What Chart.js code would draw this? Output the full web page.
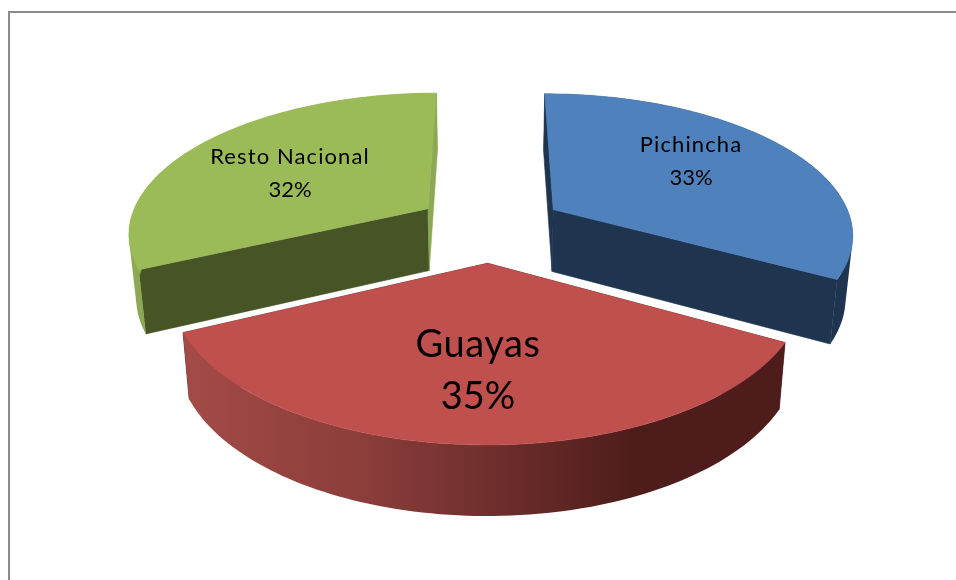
<!DOCTYPE html>
<html><head><meta charset="utf-8">
<style>html,body{margin:0;padding:0;background:#fff;overflow:hidden}canvas{display:block}</style>
<script src="https://cdn.jsdelivr.net/npm/chart.js@4"></script>
</head><body><canvas id="c" width="956" height="580"></canvas>
<script>
const categories = ['Pichincha', 'Guayas', 'Resto Nacional'];
const shares = [33, 35, 32];
const topColors = ['#4F81BD', '#C0504D', '#9BBB59'];
const startFaceColors = ['#1F344F', '#4E1D1B', '#465426'];
const endFaceColors = ['#1F344F', '#4E1D1B', '#8DA852'];
const wallStops = [
  [[0, '#1F344F'], [1, '#1F344F']],
  [[0, '#A34A46'], [0.3, '#8A3D3A'], [0.55, '#6A2C2A'], [0.75, '#4E1D1B'], [1, '#4E1D1B']],
  [[0, '#8DA852'], [1, '#8DA852']]
];
const labelSpots = [[691, 145, 178, 22, 1.1], [478, 345, 397, 38, 0.6], [290, 157, 190, 22, 1.1]];

const EXPLODE = 0.25, PERSP = 0.16;
const topPlane = { x0: 490, y0: 227, fx: 300, fy: 139.5 };
const basePlane = { x0: 490, y0: 289.5, fx: 294, fy: 145 };

function project(plane, u, v) {
  const w = 1 - PERSP * v;
  return [plane.x0 + plane.fx * u / w, plane.y0 + plane.fy * v / w];
}
function rimPoints(arc, plane) {
  const mid = (arc.startAngle + arc.endAngle) / 2;
  const ox = EXPLODE * Math.cos(mid), oy = EXPLODE * Math.sin(mid);
  const pts = [], n = 90;
  for (let i = 0; i <= n; i++) {
    const a = arc.startAngle + (arc.endAngle - arc.startAngle) * i / n;
    pts.push(project(plane, ox + Math.cos(a), oy + Math.sin(a)));
  }
  return { apex: project(plane, ox, oy), pts };
}
function tracePoly(ctx, pts) {
  pts.forEach((p, i) => i ? ctx.lineTo(p[0], p[1]) : ctx.moveTo(p[0], p[1]));
  ctx.closePath();
}
function fillPoly(ctx, pts, fill) {
  ctx.beginPath();
  tracePoly(ctx, pts);
  ctx.fillStyle = fill;
  ctx.strokeStyle = fill;
  ctx.lineWidth = 0.6;
  ctx.fill();
  ctx.stroke();
}
function signedArea(q) {
  let s = 0;
  q.forEach((p, i) => { const n = q[(i + 1) % q.length]; s += p[0] * n[1] - n[0] * p[1]; });
  return s;
}
function fillStrip(ctx, top, base, fill) {
  ctx.beginPath();
  for (let k = 0; k < top.length - 1; k++) {
    const q = [top[k], top[k + 1], base[k + 1], base[k]];
    tracePoly(ctx, signedArea(q) < 0 ? q.reverse() : q);
  }
  ctx.fillStyle = fill;
  ctx.fill('nonzero');
}

const pie3d = {
  id: 'pie3d',
  beforeDraw(chart) {
    const ctx = chart.ctx;
    ctx.save();
    ctx.strokeStyle = '#8C8C8C';
    ctx.lineWidth = 2;
    ctx.beginPath();
    ctx.moveTo(9, 580); ctx.lineTo(9, 12); ctx.lineTo(956, 12);
    ctx.stroke();
    ctx.restore();
  },
  beforeDatasetDraw(chart) {
    const ctx = chart.ctx;
    const arcs = chart.getDatasetMeta(0).data;
    ctx.save();
    arcs.forEach((arc, i) => {
      const top = rimPoints(arc, topPlane), base = rimPoints(arc, basePlane);
      const last = top.pts.length - 1;
      fillPoly(ctx, [top.apex, top.pts[0], base.pts[0], base.apex], startFaceColors[i]);
      fillPoly(ctx, [top.apex, top.pts[last], base.pts[last], base.apex], endFaceColors[i]);
      const xs = base.pts.map(p => p[0]);
      const grad = ctx.createLinearGradient(Math.min(...xs), 0, Math.max(...xs), 0);
      wallStops[i].forEach(s => grad.addColorStop(s[0], s[1]));
      fillStrip(ctx, top.pts, base.pts, grad);
      fillPoly(ctx, [top.apex].concat(top.pts), arc.options.backgroundColor);
    });
    ctx.restore();
    return false;
  },
  afterDatasetsDraw(chart) {
    const ctx = chart.ctx;
    const total = shares.reduce((a, b) => a + b, 0);
    ctx.save();
    ctx.fillStyle = '#000';
    ctx.textAlign = 'center';
    ctx.textBaseline = 'middle';
    categories.forEach((name, i) => {
      const s = labelSpots[i];
      ctx.font = s[3] + 'px Lato, Carlito, sans-serif';
      ctx.letterSpacing = s[4] + 'px';
      ctx.fillText(name, s[0], s[1]);
      ctx.letterSpacing = '0px';
      ctx.fillText(Math.round(shares[i] / total * 100) + '%', s[0], s[2]);
    });
    ctx.restore();
  }
};

new Chart(document.getElementById('c'), {
  type: 'pie',
  data: { labels: categories, datasets: [{ data: shares, backgroundColor: topColors, borderWidth: 0 }] },
  options: {
    responsive: false, animation: false,
    plugins: { legend: { display: false }, tooltip: { enabled: false } }
  },
  plugins: [pie3d]
});
</script></body></html>
